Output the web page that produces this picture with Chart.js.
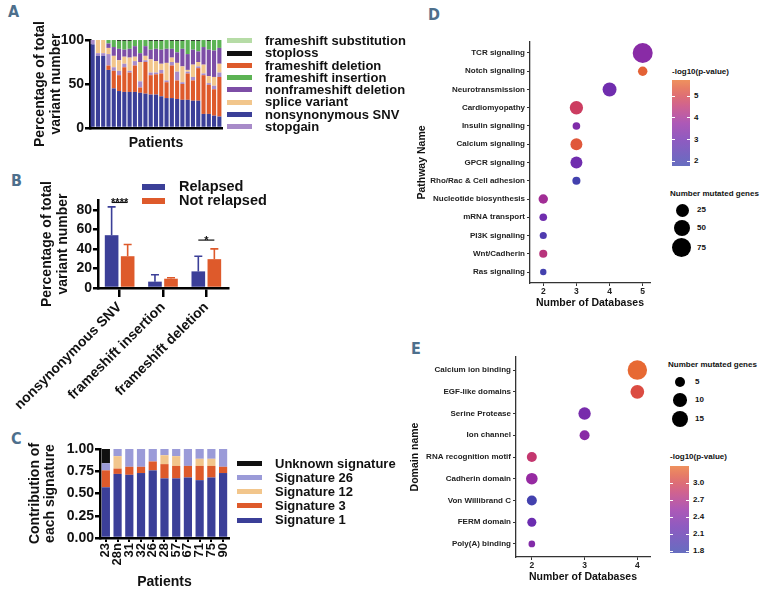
<!DOCTYPE html>
<html lang="en">
<head>
<meta charset="UTF-8">
<title>Variant and pathway overview</title>
<script src="https://cdn.jsdelivr.net/npm/chart.js"></script>
<style>
  * { margin: 0; padding: 0; box-sizing: border-box; }
  body {
    width: 768px; height: 597px; position: relative; overflow: hidden;
    background: #fff; color: #111;
    font-family: "Liberation Sans", Arial, Helvetica, sans-serif; font-weight: bold;
  }
  canvas { position: absolute; }
  .panel {
    position: absolute; font-size: 16px; color: #4d6f8c;
    font-family: "Liberation Sans Narrow", "DejaVu Sans Condensed", sans-serif;
  }
  .lg { position: absolute; white-space: nowrap; }
  .box { position: absolute; }
</style>
</head>
<body>
<div class="panel" style="left:8px;top:2px">A</div>
<div class="panel" style="left:11px;top:171px">B</div>
<div class="panel" style="left:11px;top:429px">C</div>
<div class="panel" style="left:428px;top:5px">D</div>
<div class="panel" style="left:411px;top:339px">E</div>

<canvas id="chartA" width="226" height="135" style="left:0;top:20px"></canvas>
<canvas id="chartB" width="236" height="240" style="left:0;top:170px"></canvas>
<canvas id="chartC" width="240" height="167" style="left:0;top:430px"></canvas>
<canvas id="chartD" width="255" height="285" style="left:400px;top:30px"></canvas>
<canvas id="chartE" width="255" height="247" style="left:400px;top:350px"></canvas>

<script>
// ---- Panel A: variant type composition per patient (%) ----
const patientsA = ['1','2','3','4','5','6','7','8','9','10','11','12','13','14','15','16','17','18','19','20','21','22','23','24','25'];
const snvA      = [95,82,82,66,45,42,41,41,41,40,39,38,38,36,34,34,33,32,32,31,31,16,16,14,13];
const fsDelA    = [0,0,0,5,20,18,28,22,30,6,36,22,23,26,18,37,21,18,30,23,37,44,33,30,45];
const stopgainA = [5,3,3,13,4,5,4,2,5,7,2,3,2,4,2,4,10,2,2,4,2,2,2,4,5];
const spliceA   = [0,15,15,7,13,12,8,15,5,22,5,15,13,7,20,5,10,18,2,14,5,10,8,10,10];
const nfDelA    = [0,0,0,5,10,13,8,10,12,10,11,11,14,16,16,10,12,20,18,17,12,20,30,30,18];
const fsInsA    = [0,0,0,4,8,9,10,9,7,15,7,10,9,10,10,9,13,9,16,10,12,8,10,12,9];
const stoplossA = [0,0,0,0,0,1,1,1,0,0,0,1,1,1,0,1,1,1,0,1,1,0,1,0,0];
const fsSubA    = [0,0,0,0,0,0,0,0,0,0,0,0,0,0,0,0,0,0,0,0,0,0,0,0,0];
const ticksA = [0, 50, 100];

// ---- Panel B: mean % of total variants, relapsed vs not relapsed ----
const categoriesB = ['nonsynonymous SNV', 'frameshift insertion', 'frameshift deletion'];
const relapsed = [54, 6.5, 17];
const relapsedSd = [29, 7, 15.5];
const notRelapsed = [32.5, 9.5, 29.5];
const notRelapsedSd = [12, 1, 10.5];
const sigCats = [0, 2];
const sigLevels = [87.5, 49];
const sigMarks = ['****', '*'];
const ticksB = [0, 20, 40, 60, 80];

// ---- Panel C: mutational signature contribution ----
const patientsC = ['23','28n','31','32','26','28','57','67','71','75','90'];
const sig1  = [0.57,0.72,0.71,0.73,0.76,0.67,0.67,0.68,0.65,0.68,0.73];
const sig3  = [0.19,0.06,0.09,0.07,0.10,0.16,0.14,0.13,0.16,0.13,0.07];
const sig12 = [0,0.14,0,0,0,0.10,0.11,0,0.08,0.08,0];
const sig26 = [0.08,0.08,0.20,0.20,0.14,0.07,0.08,0.19,0.11,0.11,0.20];
const sigUnknown = [0.16,0,0,0,0,0,0,0,0,0,0];
const ticksC = [0, 0.25, 0.5, 0.75, 1];

// ---- Panel D: pathways ----
const pathways = ['TCR signaling','Notch signaling','Neurotransmission','Cardiomyopathy','Insulin signaling','Calcium signaling','GPCR signaling','Rho/Rac & Cell adhesion','Nucleotide biosynthesis','mRNA transport','PI3K signaling','Wnt/Cadherin','Ras signaling'];
const dbD    = [5,5,4,3,3,3,3,3,2,2,2,2,2];
const genesD = [86,8,31,27,3,19,19,4,8,3,2,4,1];
const logpD  = [3.5,5.5,3.0,4.75,3.3,5.35,3.0,1.97,3.95,3.0,2.25,4.35,1.97];
const ticksD = [2,3,4,5];
const sizeKeysD = [25,50,75];
const colorKeysD = [2,3,4,5];

// ---- Panel E: domains ----
const domains = ['Calcium ion binding','EGF-like domains','Serine Protease','Ion channel','RNA recognition motif','Cadherin domain','Von Willibrand C','FERM domain','Poly(A) binding'];
const dbE    = [4,4,3,3,2,2,2,2,2];
const genesE = [21,10,8,5,5,7,5,4,2];
const logpE  = [3.25,3.07,2.3,2.43,2.84,2.53,1.84,2.2,2.38];
const ticksE = [2,3,4];
const sizeKeysE = [5,10,15];
const colorKeysE = [1.8,2.1,2.4,2.7,3.0];

// colours
const BLUE = '#3b3f98', ORANGE = '#de5a2b', LPURPLE = '#a88bc9', TAN = '#f2c68c',
      PURPLE = '#7d4ea6', GREEN = '#5cb354', BLACK = '#111111', LGREEN = '#b6dca6', LAVENDER = '#9b9bd8';

Chart.defaults.font.family = '"Liberation Sans", Arial, Helvetica, sans-serif';
Chart.defaults.font.weight = 'bold';
Chart.defaults.color = '#111';
Chart.defaults.animation = false;
Chart.defaults.responsive = false;
Chart.defaults.events = [];
Chart.defaults.plugins.legend.display = false;
Chart.defaults.plugins.tooltip.enabled = false;

const setTicks = vals => s => { s.ticks = vals.map(v => ({ value: v })); };
const fixW = w => s => { s.width = w; };
const fixH = h => s => { s.height = h; };

// colour gradient used for -log10(p) (blue -> purple -> red -> orange)
const gradStops = [[0,[59,69,174]],[0.28,[106,45,176]],[0.5,[150,42,162]],[0.72,[200,56,106]],[0.86,[220,77,63]],[1,[234,114,48]]];
function gradColor(t) {
  t = Math.max(0, Math.min(1, t));
  for (let i = 1; i < gradStops.length; i++) {
    const [t1, c1] = gradStops[i], [t0, c0] = gradStops[i - 1];
    if (t <= t1) {
      const f = (t - t0) / (t1 - t0);
      return 'rgb(' + c0.map((c, k) => Math.round(c + (c1[k] - c) * f)).join(',') + ')';
    }
  }
}
const loD = 1.77, hiD = 5.74, loE = 1.765, hiE = 3.3;
const sizeD = n => 0.82 * Math.sqrt(n) + 2.4;
const sizeE = n => 2.016 * Math.sqrt(n) + 0.49;

// ---------- A ----------
const seriesA = [
  ['nonsynonymous SNV', snvA, BLUE], ['frameshift deletion', fsDelA, ORANGE], ['stopgain', stopgainA, LPURPLE],
  ['splice variant', spliceA, TAN], ['nonframeshift deletion', nfDelA, PURPLE], ['frameshift insertion', fsInsA, GREEN],
  ['stoploss', stoplossA, BLACK], ['frameshift substitution', fsSubA, LGREEN]
];
new Chart(document.getElementById('chartA'), {
  type: 'bar',
  data: {
    labels: patientsA,
    datasets: seriesA.map(([name, data, color]) => ({ label: name, data, backgroundColor: color, borderWidth: 0, barPercentage: 0.78, categoryPercentage: 1 }))
  },
  options: {
    layout: { autoPadding: false, padding: { left: 0, top: 20, right: 4, bottom: 0 } },
    scales: {
      x: {
        stacked: true, ticks: { display: false }, grid: { display: false },
        border: { color: '#000', width: 2.5 },
        title: { display: true, text: 'Patients', font: { size: 14, weight: 'bold' }, padding: { top: 0, bottom: 3 } },
        afterFit: fixH(27)
      },
      y: {
        stacked: true, min: 0, max: 100, afterBuildTicks: setTicks(ticksA),
        ticks: { font: { size: 14, weight: 'bold' }, padding: 1 },
        grid: { drawOnChartArea: false, color: '#000', lineWidth: 2.5, tickLength: 5 },
        border: { color: '#000', width: 2.5 },
        title: { display: true, text: ['Percentage of total', 'variant number'], font: { size: 14, weight: 'bold', lineHeight: 1.15 }, padding: { top: 32, bottom: 0 } },
        afterFit: fixW(90)
      }
    }
  }
});

// ---------- B ----------
const errorBars = {
  id: 'errorBars',
  afterDatasetsDraw(chart) {
    const ctx = chart.ctx, ys = chart.scales.y;
    const sds = [relapsedSd, notRelapsedSd];
    chart.data.datasets.forEach((ds, di) => {
      chart.getDatasetMeta(di).data.forEach((bar, i) => {
        const top = ys.getPixelForValue(ds.data[i] + sds[di][i]);
        ctx.save();
        ctx.strokeStyle = ds.backgroundColor; ctx.lineWidth = 1.6;
        ctx.beginPath();
        ctx.moveTo(bar.x, bar.y); ctx.lineTo(bar.x, top);
        ctx.moveTo(bar.x - 4, top); ctx.lineTo(bar.x + 4, top);
        ctx.stroke(); ctx.restore();
      });
    });
    const m0 = chart.getDatasetMeta(0).data, m1 = chart.getDatasetMeta(1).data;
    sigCats.forEach((c, k) => {
      const yy = ys.getPixelForValue(sigLevels[k]);
      ctx.save();
      ctx.strokeStyle = '#111'; ctx.lineWidth = 1.2;
      ctx.beginPath(); ctx.moveTo(m0[c].x, yy); ctx.lineTo(m1[c].x, yy); ctx.stroke();
      ctx.fillStyle = '#111'; ctx.font = 'bold 11px "Liberation Sans", Arial, sans-serif';
      ctx.textAlign = 'center'; ctx.textBaseline = 'alphabetic';
      ctx.fillText(sigMarks[k], (m0[c].x + m1[c].x) / 2, yy + 4);
      ctx.restore();
    });
  }
};
new Chart(document.getElementById('chartB'), {
  type: 'bar',
  data: {
    labels: categoriesB,
    datasets: [
      { label: 'Relapsed', data: relapsed, backgroundColor: BLUE, borderWidth: 0, barPercentage: 0.85, categoryPercentage: 0.74 },
      { label: 'Not relapsed', data: notRelapsed, backgroundColor: ORANGE, borderWidth: 0, barPercentage: 0.85, categoryPercentage: 0.74 }
    ]
  },
  options: {
    layout: { autoPadding: false, padding: { left: 0, top: 30, right: 8, bottom: 0 } },
    scales: {
      x: {
        ticks: { font: { size: 14, weight: 'bold' }, minRotation: 45, maxRotation: 45, padding: 2, autoSkip: false },
        grid: { drawOnChartArea: false, offset: false, color: '#000', lineWidth: 2.5, tickLength: 9 },
        border: { color: '#000', width: 2.5 },
        afterFit: fixH(122)
      },
      y: {
        min: 0, max: 90, afterBuildTicks: setTicks(ticksB),
        ticks: { font: { size: 14, weight: 'bold' }, padding: 1 },
        grid: { drawOnChartArea: false, color: '#000', lineWidth: 2.5, tickLength: 5 },
        border: { color: '#000', width: 2.5 },
        title: { display: true, text: ['Percentage of total', 'variant number'], font: { size: 14, weight: 'bold', lineHeight: 1.15 }, padding: { top: 33, bottom: 0 } },
        afterFit: fixW(92)
      }
    }
  },
  plugins: [errorBars]
});

// ---------- C ----------
const seriesC = [
  ['Signature 1', sig1, BLUE], ['Signature 3', sig3, ORANGE], ['Signature 12', sig12, TAN],
  ['Signature 26', sig26, LAVENDER], ['Unknown signature', sigUnknown, BLACK]
];
new Chart(document.getElementById('chartC'), {
  type: 'bar',
  data: {
    labels: patientsC,
    datasets: seriesC.map(([name, data, color]) => ({ label: name, data, backgroundColor: color, borderWidth: 0, barPercentage: 0.7, categoryPercentage: 1 }))
  },
  options: {
    layout: { autoPadding: false, padding: { left: 0, top: 19, right: 7, bottom: 0 } },
    scales: {
      x: {
        stacked: true,
        ticks: { font: { size: 13, weight: 'bold' }, minRotation: 90, maxRotation: 90, padding: 1, autoSkip: false },
        grid: { drawOnChartArea: false, offset: false, color: '#000', lineWidth: 2, tickLength: 4 },
        border: { color: '#000', width: 2.5 },
        title: { display: true, text: 'Patients', font: { size: 14, weight: 'bold' }, padding: { top: 0, bottom: 6 } },
        afterFit: fixH(59)
      },
      y: {
        stacked: true, min: 0, max: 1, afterBuildTicks: setTicks(ticksC),
        ticks: { font: { size: 14, weight: 'bold' }, padding: 1, callback: v => v.toFixed(2) },
        grid: { drawOnChartArea: false, color: '#000', lineWidth: 2.5, tickLength: 5 },
        border: { color: '#000', width: 2.5 },
        title: { display: true, text: ['Contribution of', 'each signature'], font: { size: 14, weight: 'bold', lineHeight: 1.1 }, padding: { top: 27, bottom: 0 } },
        afterFit: fixW(100)
      }
    }
  }
});

// ---------- D / E bubble charts ----------
function bubbleChart(id, names, db, genes, logp, sizeFn, lo, hi, xMin, xMax, xTicks, yAxisW, xAxisH, pad, yTitle, yTitlePad, xTitlePad) {
  const n = names.length;
  new Chart(document.getElementById(id), {
    type: 'bubble',
    data: {
      datasets: [{
        data: names.map((_, i) => ({ x: db[i], y: n - i, r: sizeFn(genes[i]) })),
        backgroundColor: logp.map(v => gradColor((v - lo) / (hi - lo))),
        borderWidth: 0, clip: false
      }]
    },
    options: {
      layout: { autoPadding: false, padding: pad },
      scales: {
        x: {
          type: 'linear', min: xMin, max: xMax, afterBuildTicks: setTicks(xTicks),
          ticks: { font: { size: 8.5, weight: 'bold' }, color: '#222', padding: 1 },
          grid: { drawOnChartArea: false, color: '#333', lineWidth: 1, tickLength: 3 },
          border: { color: '#333', width: 1.3 },
          title: { display: true, text: 'Number of Databases', font: { size: 10.5, weight: 'bold' }, padding: { top: 0, bottom: xTitlePad } },
          afterFit: fixH(xAxisH)
        },
        y: {
          type: 'linear', min: 0.4, max: n + 0.6,
          afterBuildTicks: s => { s.ticks = names.map((_, i) => ({ value: n - i })); },
          ticks: { font: { size: 8, weight: 'bold' }, color: '#222', padding: 2, autoSkip: false, callback: v => names[n - v] },
          grid: { drawOnChartArea: false, color: '#333', lineWidth: 1, tickLength: 3 },
          border: { color: '#333', width: 1.3 },
          title: { display: true, text: yTitle, font: { size: 10.5, weight: 'bold' }, padding: { top: yTitlePad, bottom: 0 } },
          afterFit: fixW(yAxisW)
        }
      }
    }
  });
}
bubbleChart('chartD', pathways, dbD, genesD, logpD, sizeD, loD, hiD, 1.6, 5.22, ticksD, 130, 32,
  { left: 0, top: 12, right: 5, bottom: 0 }, 'Pathway Name', 15.5, 5.5);
bubbleChart('chartE', domains, dbE, genesE, logpE, sizeE, loE, hiE, 1.7, 4.24, ticksE, 116, 40,
  { left: 0, top: 7, right: 5, bottom: 0 }, 'Domain name', 8.7, 14);

// ---------- HTML legends ----------
function addText(txt, x, cy, size, extra) {
  const d = document.createElement('div');
  d.className = 'lg';
  d.textContent = txt;
  d.style.left = x + 'px';
  d.style.top = (cy - size * 0.6) + 'px';
  d.style.fontSize = size + 'px';
  d.style.lineHeight = (size * 1.2) + 'px';
  if (extra) Object.assign(d.style, extra);
  document.body.appendChild(d);
}
function addBox(x, y, w, h, bg, extra) {
  const d = document.createElement('div');
  d.className = 'box';
  Object.assign(d.style, { left: x + 'px', top: y + 'px', width: w + 'px', height: h + 'px', background: bg }, extra || {});
  document.body.appendChild(d);
}

// A legend
const legendOrderA = [7, 6, 1, 5, 4, 3, 0, 2];
legendOrderA.forEach((si, k) => {
  const cy = 40.7 + k * 12.3;
  addBox(227, cy - 2.5, 25, 5, seriesA[si][2]);
  addText(seriesA[si][0], 265, cy, 13);
});

// B legend
[['Relapsed', BLUE], ['Not relapsed', ORANGE]].forEach(([name, color], k) => {
  const cy = 186.7 + k * 14;
  addBox(142, cy - 3, 23, 6, color);
  addText(name, 179, cy, 14.5);
});

// C legend
[4, 3, 2, 1, 0].forEach((si, k) => {
  const cy = 463.3 + k * 14.2;
  addBox(237, cy - 2.5, 25, 5, seriesC[si][2]);
  addText(seriesC[si][0], 275, cy, 13);
});

// colour bars
function colorBar(x, top, w, h, lo, hi, keys, titleY, fmt) {
  addText('-log10(p-value)', x, titleY, 8);
  const stops = [];
  for (let i = 0; i <= 10; i++) stops.push(gradColor(i / 10) + ' ' + (i * 10) + '%');
  addBox(x, top, w, h, 'linear-gradient(to top, ' + stops.join(', ') + ')', { opacity: 0.78 });
  keys.forEach(v => {
    const y = top + h - (v - lo) / (hi - lo) * h;
    addBox(x, y - 0.5, 3, 1, '#fff');
    addBox(x + w - 3, y - 0.5, 3, 1, '#fff');
    addText(fmt(v), x + w + 4, y, 8);
  });
}
function sizeLegend(x, titleY, ys, keys, sizeFn) {
  addText('Number mutated genes', x - 2, titleY, 8);
  keys.forEach((v, k) => {
    const r = sizeFn(v);
    addBox(x + 10 - r, ys[k] - r, 2 * r, 2 * r, '#000', { borderRadius: '50%' });
    addText(String(v), x + 25, ys[k], 8);
  });
}
colorBar(672, 80, 18, 86, loD, hiD, colorKeysD, 72, v => String(v));
sizeLegend(672, 194, [210, 228, 248], sizeKeysD, sizeD);
sizeLegend(670, 365, [382, 400, 419], sizeKeysE, sizeE);
colorBar(670, 466, 19, 87, loE, hiE, colorKeysE, 457, v => v.toFixed(1));
</script>
</body>
</html>
